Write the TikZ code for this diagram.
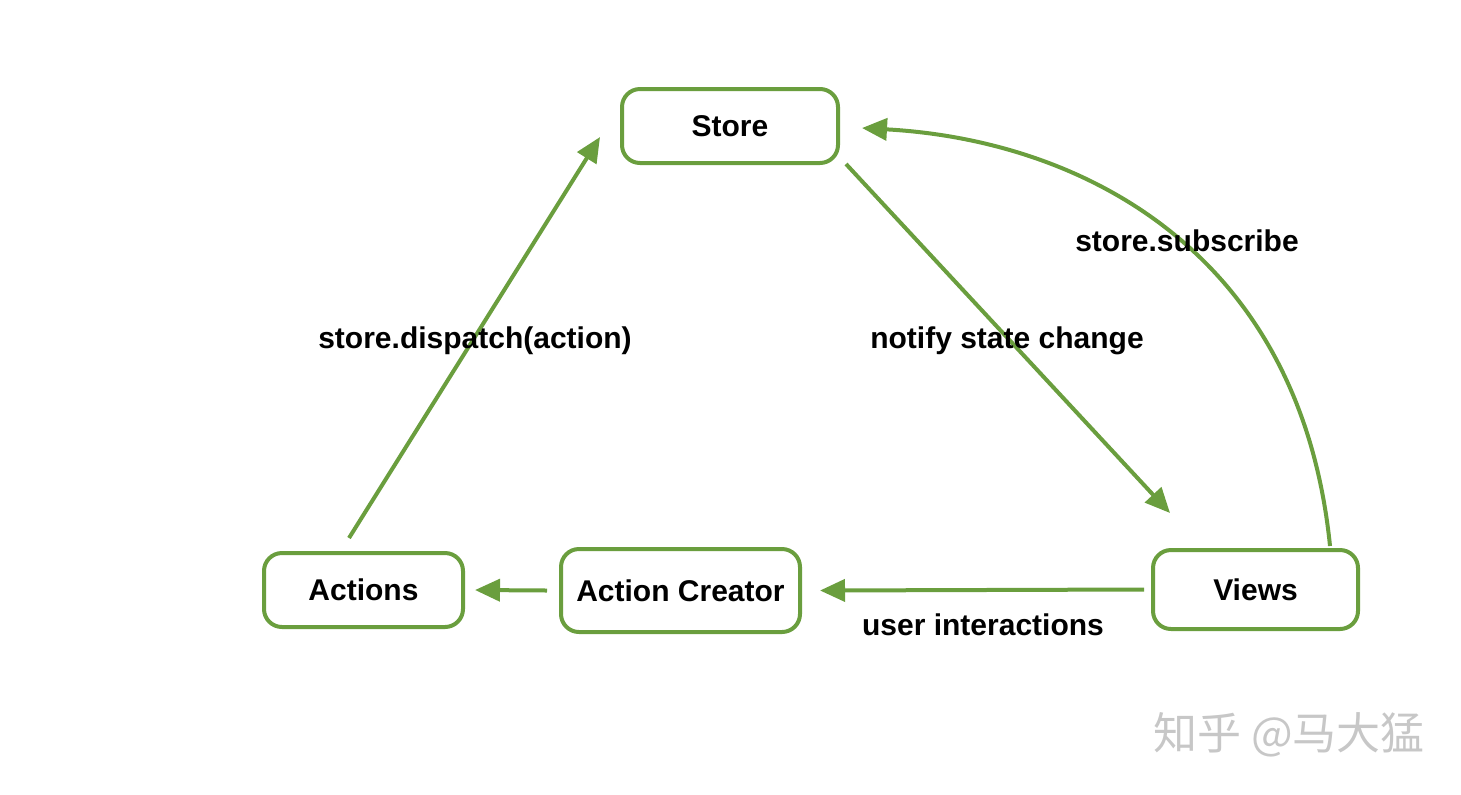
\documentclass[tikz,border=0pt]{standalone}
\usepackage{fontspec}
\setmainfont{Liberation Sans}
\newfontfamily\cjk{Noto Sans CJK SC}
\usepackage{xcolor}
\usetikzlibrary{arrows.meta,positioning}
\definecolor{leaf}{RGB}{106,158,62}

\begin{document}
\begin{tikzpicture}[x=0.5pt, y=-0.5pt, font=\fontsize{15}{18}\selectfont\bfseries,
    box/.style={draw=leaf, line width=2pt, rounded corners=9pt, fill=white, minimum height=37pt},
    link/.style={draw=leaf, line width=2pt, -{Triangle[length=12.5pt,width=11pt]}}]
            \useasboundingbox (0,0) rectangle (1461,794);
            \node[box, minimum width=108pt] (store) at (730,126) {Store};
            \node[box, minimum width=99.5pt] (actions) at (363.5,590) {Actions};
            \node[box, minimum width=119.5pt, minimum height=41.5pt] (creator) at (680.5,590.5) {Action Creator};
            \node[box, minimum width=102.5pt, minimum height=39.5pt] (views) at (1255.5,589.5) {Views};
            % connector ends
            \coordinate (dispA) at (349,538);
            \coordinate (dispS) at (600,137);
            \coordinate (notS) at (846,164);
            \coordinate (notV) at (1170,513);
            \coordinate (subV) at (1330,546);
            \coordinate (subS) at (862,128);
            \draw[link] (dispA) -- (dispS);
            \draw[link] (notS) -- (notV);
            \draw[link] (subV) .. controls (1300,250) and (1080,140) .. (subS);
            \draw[link] ([xshift=-3.5pt]views.west) -- ([xshift=9pt]creator.east);
            \draw[link] ([xshift=-6pt]creator.west) -- ([xshift=5pt]actions.east);
            % labels
            \node (ldisp) at (475,341) {store.dispatch(action)};
            \node (lnot) at (1007,341) {notify state change};
            \node (lsub) at (1187,241) {store.subscribe};
            \node (luser) at (983,625) {user interactions};
            \node[text=black!22, font=\fontsize{22}{24}\selectfont\cjk] (mark) at (1289,735) {知乎 @马大猛};
        \end{tikzpicture}
\end{document}
